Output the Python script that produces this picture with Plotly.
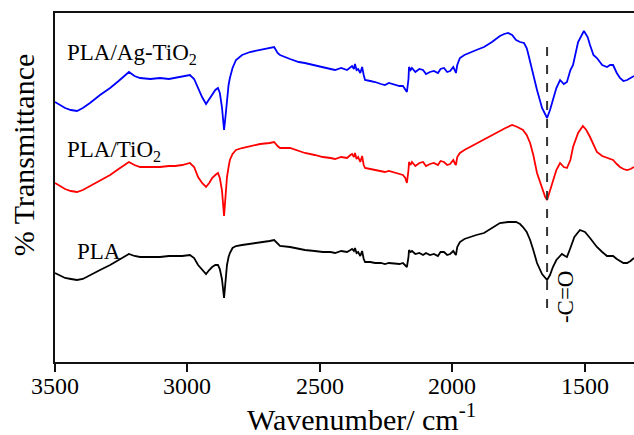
import plotly.graph_objects as go

# ---- data (wavenumber, relative transmittance, curves offset as in the figure) ----
blue_wn = [3500, 3480, 3462, 3440, 3417, 3395, 3368, 3330, 3292, 3260, 3221, 3200, 3179, 3140, 3104, 3070,
           3047, 3020, 2991, 2975, 2960, 2945, 2930, 2918, 2907, 2895, 2885, 2878, 2870, 2862, 2856, 2851,
           2845, 2840, 2830, 2817, 2794, 2764, 2726, 2690, 2673, 2660, 2651, 2613, 2580, 2557, 2520, 2489,
           2460, 2443, 2420, 2398, 2385, 2379, 2372, 2368, 2362, 2356, 2348, 2341, 2335, 2330, 2310, 2292,
           2270, 2255, 2240, 2217, 2200, 2187, 2178, 2172, 2166, 2164, 2158, 2153, 2140, 2125, 2111, 2100,
           2085, 2070, 2055, 2045, 2032, 2020, 2009, 1997, 1990, 1987, 1982, 1975, 1972, 1955, 1934, 1910,
           1881, 1851, 1821, 1805, 1790, 1775, 1760, 1745, 1730, 1720, 1715, 1700, 1681, 1662, 1650, 1643,
           1632, 1621, 1608, 1594, 1580, 1568, 1555, 1545, 1526, 1504, 1490, 1481, 1468, 1455, 1435, 1417,
           1405, 1394, 1380, 1368, 1355, 1341, 1328, 1315]
blue_t = [273, 270, 267, 265, 264, 267, 272, 280, 287, 294, 303, 299, 297, 296, 297, 296,
          297, 298, 300, 296, 287, 278, 271, 276, 280, 285, 287, 282, 268, 245, 260, 275,
          290, 297, 307, 315, 320, 323, 325, 327, 328, 322, 320, 316, 313, 312, 310, 308,
          306, 305, 307, 305, 308, 309, 306, 311, 305, 306, 302, 308, 300, 295, 294, 293,
          291, 290, 292, 290, 289, 289, 286, 283, 296, 308, 305, 307, 303, 306, 305, 301,
          303, 304, 302, 306, 307, 303, 304, 308, 304, 302, 310, 315, 317, 320, 322, 325,
          328, 333, 339, 341, 342, 340, 335, 333, 332, 327, 322, 305, 285, 267, 260, 257,
          265, 275, 287, 295, 291, 293, 305, 310, 333, 344, 338, 330, 320, 317, 310, 308,
          310, 310, 302, 297, 294, 295, 297, 299]

red_wn = [3500, 3480, 3462, 3440, 3417, 3395, 3368, 3330, 3292, 3260, 3221, 3200, 3179, 3140, 3104, 3070,
          3047, 3020, 2991, 2975, 2960, 2945, 2930, 2918, 2907, 2895, 2885, 2878, 2870, 2862, 2856, 2851,
          2845, 2840, 2830, 2817, 2794, 2764, 2726, 2690, 2673, 2660, 2651, 2613, 2580, 2557, 2520, 2489,
          2460, 2443, 2420, 2398, 2385, 2379, 2372, 2368, 2362, 2356, 2348, 2341, 2335, 2330, 2310, 2292,
          2270, 2255, 2240, 2217, 2200, 2187, 2178, 2172, 2166, 2164, 2158, 2153, 2140, 2125, 2111, 2100,
          2085, 2070, 2055, 2045, 2032, 2020, 2009, 1997, 1990, 1987, 1982, 1975, 1972, 1955, 1934, 1910,
          1896, 1860, 1830, 1800, 1775, 1755, 1734, 1720, 1707, 1695, 1681, 1662, 1650, 1643,
          1632, 1621, 1608, 1594, 1580, 1568, 1555, 1545, 1526, 1508, 1495, 1481, 1468, 1455, 1435, 1417,
          1405, 1394, 1380, 1368, 1355, 1341, 1328, 1315]
red_t = [192, 189, 186, 184, 183, 185, 189, 194, 200, 206, 213, 210, 208, 208, 208, 209,
         209, 210, 212, 208, 198, 192, 188, 192, 197, 200, 202, 197, 185, 159, 180, 198,
         208, 215, 221, 225, 227, 229, 231, 232, 233, 229, 227, 227, 224, 222, 220, 218,
         217, 216, 218, 217, 220, 221, 218, 222, 216, 218, 213, 219, 210, 207, 206, 205,
         204, 203, 204, 202, 201, 200, 197, 192, 205, 213, 210, 213, 209, 212, 213, 209,
         211, 212, 210, 214, 213, 210, 211, 215, 211, 210, 218, 221, 222, 225, 228, 231,
         233, 238, 243, 247, 250, 248, 245, 240, 232, 220, 202, 186, 178, 175,
         184, 195, 205, 212, 208, 207, 215, 228, 242, 249, 245, 238, 230, 223, 219, 217,
         216, 215, 211, 208, 206, 205, 206, 208]

black_wn = [3500, 3480, 3462, 3440, 3417, 3395, 3368, 3330, 3292, 3260, 3221, 3200, 3179, 3140, 3104, 3070,
            3047, 3020, 2991, 2975, 2960, 2945, 2930, 2918, 2907, 2895, 2885, 2878, 2870, 2862, 2856, 2851,
            2845, 2840, 2830, 2817, 2794, 2764, 2726, 2690, 2673, 2660, 2651, 2613, 2580, 2557, 2520, 2489,
            2460, 2443, 2420, 2398, 2385, 2379, 2372, 2368, 2362, 2356, 2348, 2341, 2335, 2330, 2310, 2292,
            2270, 2255, 2240, 2217, 2200, 2187, 2178, 2172, 2166, 2164, 2158, 2153, 2140, 2125, 2111, 2100,
            2085, 2070, 2055, 2045, 2032, 2020, 2009, 1997, 1990, 1987, 1982, 1975, 1972, 1955, 1934, 1910,
            1881, 1851, 1821, 1790, 1760, 1745, 1734, 1720, 1707, 1695, 1681, 1662, 1650, 1643,
            1632, 1621, 1608, 1587, 1575, 1568, 1555, 1540, 1519, 1500, 1481, 1468, 1455, 1435, 1417,
            1405, 1394, 1380, 1368, 1355, 1341, 1328, 1315]
black_t = [102, 99, 97, 96, 95, 96, 100, 105, 110, 115, 121, 119, 118, 118, 118, 119,
           119, 119, 120, 117, 110, 105, 101, 105, 108, 110, 110, 106, 96, 77, 95, 110,
           118, 122, 127, 129, 130, 131, 133, 134, 135, 131, 129, 128, 126, 125, 124, 123,
           123, 122, 124, 123, 125, 126, 124, 127, 122, 123, 119, 124, 116, 113, 113, 112,
           112, 111, 112, 111, 111, 112, 110, 108, 118, 125, 123, 124, 121, 122, 120, 122,
           120, 121, 119, 123, 123, 120, 121, 124, 121, 120, 128, 131, 133, 136, 138, 140,
           142, 147, 152, 153, 153, 151, 148, 143, 135, 125, 112, 101, 97, 95,
           100, 108, 115, 121, 119, 118, 127, 138, 145, 143, 137, 132, 128, 123, 119,
           119, 119, 116, 114, 112, 112, 114, 117]

series_names = ["PLA/Ag-TiO<sub>2</sub>", "PLA/TiO<sub>2</sub>", "PLA"]
label_pos_wn = [3462, 3462, 3425]
label_pos_t = [321, 224, 124]
co_wn = 1643
co_range = [67, 335]
x_ticks = [3500, 3000, 2500, 2000, 1500]
x_ticktext = [str(v) for v in x_ticks]

FONT = "Liberation Serif"

fig = go.Figure()
for wn, t, col in [(blue_wn, blue_t, "#0000ff"), (red_wn, red_t, "#ff0000"), (black_wn, black_t, "#000000")]:
    fig.add_trace(go.Scatter(x=wn, y=t, mode="lines", line=dict(color=col, width=1.8),
                             showlegend=False, hoverinfo="skip"))

fig.add_shape(type="line", xref="x", yref="y", x0=co_wn, x1=co_wn, y0=co_range[0], y1=co_range[1],
              line=dict(color="#333333", width=2, dash="dash"))

for name, xw, yt in zip(series_names, label_pos_wn, label_pos_t):
    fig.add_annotation(x=xw, y=yt, xref="x", yref="y", text=name, showarrow=False,
                       xanchor="left", yanchor="middle", font=dict(family=FONT, size=23, color="#000"))

fig.add_annotation(x=1575, y=78, xref="x", yref="y", text="-C=O", showarrow=False, textangle=-90,
                   xanchor="center", yanchor="middle", font=dict(family=FONT, size=23, color="#000"))

# tick labels (serif) placed under the ticks of the x axis
for v, txt in zip(x_ticks, x_ticktext):
    fig.add_annotation(x=v, y=-0.069, xref="x", yref="paper", text=txt, showarrow=False,
                       xanchor="center", yanchor="middle", font=dict(family=FONT, size=24, color="#000"))

fig.add_annotation(x=-0.055, y=0.593, xref="paper", yref="paper", text="% Transmittance", showarrow=False,
                   textangle=-90, xanchor="center", yanchor="middle", font=dict(family=FONT, size=30, color="#000"))
fig.add_annotation(x=0.53, y=-0.158, xref="paper", yref="paper", text="Wavenumber/ cm<sup>-1</sup>",
                   showarrow=False, xanchor="center", yanchor="middle",
                   font=dict(family=FONT, size=30, color="#000"))

fig.update_layout(
    width=634, height=435, margin=dict(l=55, r=0, t=13, b=73),
    paper_bgcolor="white", plot_bgcolor="white",
    font=dict(family=FONT, color="#000"),
    xaxis=dict(range=[3500, 1315], tickmode="array", tickvals=x_ticks, showticklabels=False,
               ticks="outside", ticklen=8, tickwidth=1.5,
               tickcolor="#111", showline=True, linecolor="#111", linewidth=1.8, mirror=True,
               showgrid=False, zeroline=False),
    yaxis=dict(range=[13, 362], showticklabels=False, ticks="", showline=True, linecolor="#111",
               linewidth=1.8, showgrid=False, zeroline=False),
)
fig.write_html("out.html")
